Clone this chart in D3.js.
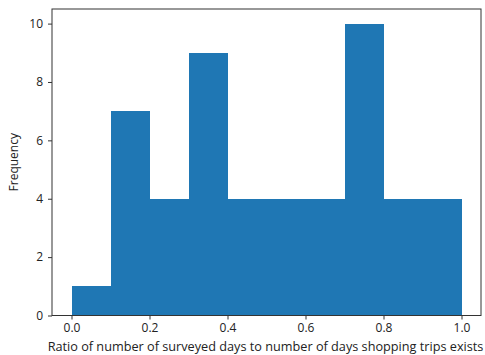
<!DOCTYPE html>
<html>
<head>
<meta charset="utf-8">
<script src="https://cdn.jsdelivr.net/npm/d3@7"></script>
<style>
  html, body { margin: 0; padding: 0; background: #fff; }
  svg text { font-family: "Open Sans", "Noto Sans", sans-serif; fill: #222; }
</style>
</head>
<body>
<svg id="chart" width="485" height="355"></svg>
<script>
// Histogram bins (ratio of surveyed days) and their frequencies
const binEdges = [0.0, 0.1, 0.2, 0.3, 0.4, 0.5, 0.6, 0.7, 0.8, 0.9, 1.0];
const frequencies = [1, 7, 4, 9, 4, 4, 4, 10, 4, 4];
const xTicks = [0.0, 0.2, 0.4, 0.6, 0.8, 1.0];
const yTicks = [0, 2, 4, 6, 8, 10];
const xLabel = "Ratio of number of surveyed days to number of days shopping trips exists";
const yLabel = "Frequency";

const svg = d3.select("#chart");
const plotL = 52, plotR = 481, plotT = 9, plotB = 315.5;

const x = d3.scaleLinear().domain([-0.05, 1.05]).range([plotL, plotR]);
const y = d3.scaleLinear().domain([0, 10.5]).range([plotB, plotT]);

const bins = frequencies.map((f, i) => ({ x0: binEdges[i], x1: binEdges[i + 1], f }));

svg.append("g").attr("shape-rendering", "crispEdges")
  .selectAll("rect").data(bins).join("rect")
  .attr("x", d => x(d.x0))
  .attr("width", d => x(d.x1) - x(d.x0))
  .attr("y", d => y(d.f))
  .attr("height", d => y(0) - y(d.f))
  .attr("fill", "#1f77b4");

const xAxis = svg.append("g").attr("transform", `translate(0,${plotB})`)
  .call(d3.axisBottom(x).tickValues(xTicks).tickFormat(d3.format(".1f")).tickSizeOuter(0).tickSize(4).tickPadding(4));
const yAxis = svg.append("g").attr("transform", `translate(${plotL},0)`)
  .call(d3.axisLeft(y).tickValues(yTicks).tickFormat(d3.format("d")).tickSizeOuter(0).tickSize(4).tickPadding(5));
[xAxis, yAxis].forEach(g => {
  g.select(".domain").remove();
  g.selectAll("line").attr("stroke", "#333");
  g.selectAll("text").attr("font-size", 12).attr("fill", "#222")
    .style("font-family", "\"Open Sans\", \"Noto Sans\", sans-serif");
});

// frame
svg.append("rect")
  .attr("x", plotL).attr("y", plotT)
  .attr("width", plotR - plotL).attr("height", plotB - plotT)
  .attr("fill", "none").attr("stroke", "#333").attr("stroke-width", 1);

const xl = svg.append("text")
  .attr("x", (plotL + plotR) / 2 - 1).attr("y", 351)
  .attr("text-anchor", "middle").attr("font-size", 11)
  .text(xLabel);
// size the axis title to span the plot width
const w = xl.node().getComputedTextLength();
xl.attr("font-size", 11 * 436 / w);

svg.append("text")
  .attr("transform", `translate(18,${(plotT + plotB) / 2}) rotate(-90)`)
  .attr("text-anchor", "middle").attr("font-size", 12)
  .text(yLabel);
</script>
</body>
</html>
